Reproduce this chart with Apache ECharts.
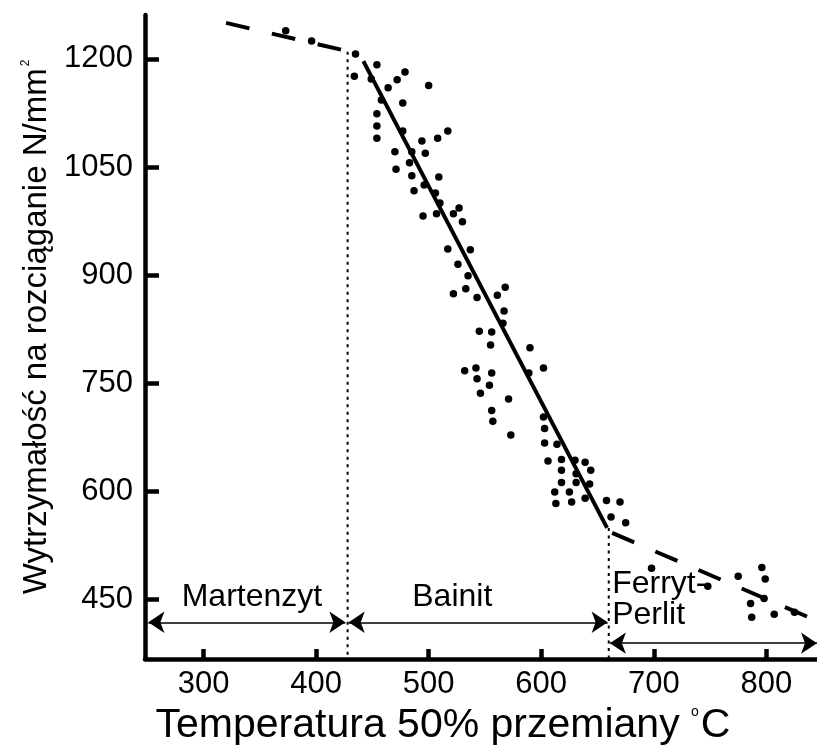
<!DOCTYPE html>
<html><head><meta charset="utf-8">
<script src="https://cdn.jsdelivr.net/npm/echarts@6/dist/echarts.min.js"></script>
<style>html,body{margin:0;padding:0;background:#fff}#c{width:817px;height:747px}</style>
</head><body><div id="c"></div>
<script>
// Tick labels
const xTicks = [300, 400, 500, 600, 700, 800];
const yTicks = [450, 600, 750, 900, 1050, 1200];

// Measured points: temperature (°C) and tensile strength (N/mm²)
const pointsX = [373,396,435,454,434,449,479,472,464,500,458,477,454,454,477,517,454,494,508,470,485,497,483,471,485,509,496,487,506,510,527,495,507,522,530,517,537,526,535,522,533,543,561,568,567,566,545,556,555,590,532,542,556,543,554,546,571,556,557,589,602,602,603,573,603,614,606,618,630,639,618,644,631,618,631,643,612,625,613,627,639,658,670,662,675,698,748,775,796,799,786,798,787,807,825];
const pointsY = [1239,1225,1207,1192,1176,1172,1182,1171,1160,1163,1143,1139,1124,1107,1100,1100,1090,1086,1090,1071,1071,1069,1056,1047,1038,1036,1025,1017,1014,1000,993,982,985,985,974,936,935,915,899,874,881,869,872,883,850,833,822,821,803,799,767,771,764,756,747,736,728,712,697,764,771,703,687,678,667,665,642,644,643,640,629,629,624,612,612,610,599,599,583,585,590,587,585,564,556,493,468,482,494,478,444,451,425,429,432];

// Trend lines
const martensiteTrendX = [320, 441];
const martensiteTrendY = [1250, 1206];
const bainiteTrendX = [442, 658.5];
const bainiteTrendY = [1197, 549];
const ferritePearliteTrendX = [663, 839];
const ferritePearliteTrendY = [542, 424];

// Phase boundaries (vertical dotted lines)
const boundaryX = [428, 660];
const boundaryTopY = [1210, 549];

// Phase ranges (double arrows) and names
const phaseNames = ['Martenzyt', 'Bainit', 'Ferryt-\nPerlit'];
const phaseFromX = [251, 429, 661];
const phaseToX = [426, 659, 845];
const phaseArrowY = [418, 418, 389];
const phaseLabelX = [343, 521, 663];
const phaseLabelY = [453, 453, 450];

const X_MIN = 248, X_MAX = 845, Y_MIN = 367, Y_MAX = 1261;
const FONT = 'Liberation Sans, Arial, sans-serif';

const chart = echarts.init(document.getElementById('c'), null, {renderer: 'canvas'});

const scatterData = pointsX.map((x, i) => [x, pointsY[i]]);
const zip = (a, b) => a.map((v, i) => [v, b[i]]);

const series = [];
series.push({
  type: 'scatter', data: scatterData, symbol: 'circle', symbolSize: 7.5,
  itemStyle: {color: '#000', opacity: 1}, silent: true, z: 5
});
const lineSeries = (data, type, width) => ({
  type: 'line', data: data, symbol: 'none', silent: true,
  lineStyle: {color: '#000', width: width, type: type, cap: 'butt', opacity: 1}, z: 4
});
series.push(lineSeries(zip(martensiteTrendX, martensiteTrendY), [24, 23], 4));
series.push(lineSeries(zip(bainiteTrendX, bainiteTrendY), 'solid', 4));
series.push(lineSeries(zip(ferritePearliteTrendX, ferritePearliteTrendY), [24, 23], 4));
boundaryX.forEach((bx, i) => {
  series.push(lineSeries([[bx, boundaryTopY[i]], [bx, Y_MIN]], [3, 4.5], 2));
});
series.push({
  type: 'line', data: [], silent: true,
  markLine: {
    silent: true, animation: false,
    symbol: ['arrow', 'arrow'], symbolSize: 16,
    lineStyle: {color: '#000', width: 1.5, type: 'solid', opacity: 1},
    itemStyle: {color: '#000'},
    label: {show: false},
    data: phaseNames.map((n, i) => [
      {coord: [phaseFromX[i], phaseArrowY[i]]},
      {coord: [phaseToX[i], phaseArrowY[i]]}
    ])
  }
});
series.push({
  type: 'scatter', symbolSize: 0, silent: true, z: 6,
  itemStyle: {opacity: 1},
  data: phaseNames.map((n, i) => ({
    value: [phaseLabelX[i], phaseLabelY[i]], name: n,
    label: i === 2 ? {align: 'left', position: [0, 0], verticalAlign: 'middle', lineHeight: 31} : {}
  })),
  label: {
    show: true, position: 'inside', formatter: p => p.name,
    color: '#000', fontSize: 32, fontFamily: FONT, opacity: 1
  }
});

chart.setOption({
  animation: false,
  backgroundColor: '#fff',
  grid: {left: 145, right: 0, top: 15, bottom: 88, containLabel: false, outerBoundsMode: 'none'},
  xAxis: {
    type: 'value', min: X_MIN, max: X_MAX,
    name: 'Temperatura 50% przemiany {sup|o}C',
    nameLocation: 'middle', nameGap: 36,
    nameTextStyle: {
      color: '#000', fontSize: 41, fontFamily: FONT, padding: [0, 76, 0, 0],
      rich: {sup: {fontSize: 14, verticalAlign: 'top', padding: [0, 2, 23, 0], fontFamily: FONT, color: '#000'}}
    },
    axisLine: {show: true, onZero: false, lineStyle: {color: '#000', width: 4.5}},
    axisTick: {show: true, inside: true, length: 10, lineStyle: {color: '#000', width: 4.5}, customValues: xTicks},
    axisLabel: {color: '#000', fontSize: 31, fontFamily: FONT, margin: 10, customValues: xTicks, formatter: v => String(v)},
    splitLine: {show: false}
  },
  yAxis: {
    type: 'value', min: Y_MIN, max: Y_MAX,
    name: 'Wytrzymałość na rozciąganie N/mm{sup|2}',
    nameLocation: 'middle', nameGap: 88, nameRotate: 90,
    nameTextStyle: {
      color: '#000', fontSize: 33, fontFamily: FONT, padding: [0, 0, 0, 20],
      rich: {sup: {fontSize: 12, verticalAlign: 'top', padding: [0, 0, 19, 2], fontFamily: FONT, color: '#000'}}
    },
    axisLine: {show: true, onZero: false, lineStyle: {color: '#000', width: 4.5}},
    axisTick: {show: true, inside: true, length: 14, lineStyle: {color: '#000', width: 4.5}, customValues: yTicks},
    axisLabel: {color: '#000', fontSize: 31, fontFamily: FONT, margin: 12, customValues: yTicks, formatter: v => String(v)},
    splitLine: {show: false}
  },
  series: series
});
</script>
</body></html>
